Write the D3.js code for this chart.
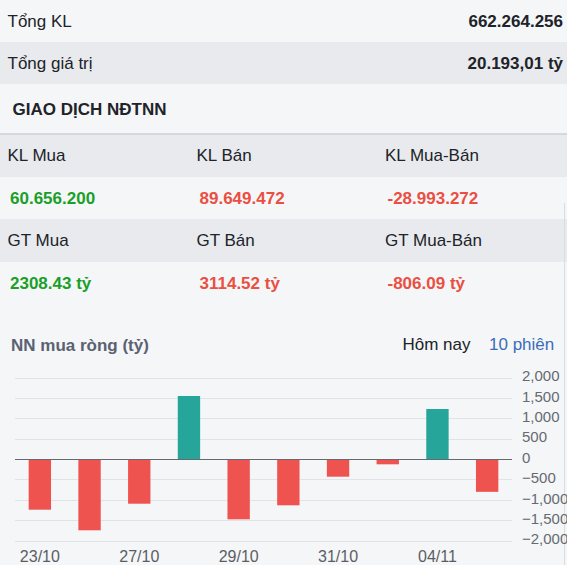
<!DOCTYPE html>
<html>
<head>
<meta charset="utf-8">
<script src="https://cdn.jsdelivr.net/npm/d3@7"></script>
<style>
  html, body { margin: 0; padding: 0; background: #f5f6f8; }
  svg { display: block; font-family: "Liberation Sans", Arial, sans-serif; }
</style>
</head>
<body>
<svg id="chart" width="567" height="565"></svg>
<script>
// ---- data ----
const summaryLabels = ["Tổng KL", "Tổng giá trị"];
const summaryValues = ["662.264.256", "20.193,01 tỷ"];
const sectionTitle = "GIAO DỊCH NĐTNN";
const klLabels = ["KL Mua", "KL Bán", "KL Mua-Bán"];
const klValues = ["60.656.200", "89.649.472", "-28.993.272"];
const gtLabels = ["GT Mua", "GT Bán", "GT Mua-Bán"];
const gtValues = ["2308.43 tỷ", "3114.52 tỷ", "-806.09 tỷ"];
const valueSigns = [1, -1, -1];
const chartTitle = "NN mua ròng (tỷ)";
const tabs = ["Hôm nay", "10 phiên"];
const dates = ["23/10", "24/10", "27/10", "28/10", "29/10", "30/10", "31/10", "03/11", "04/11", "05/11"];
const netBuy = [-1244, -1750, -1097, 1546, -1480, -1136, -434, -130, 1227, -806.09];
const xTickLabels = ["23/10", "27/10", "29/10", "31/10", "04/11"];
const yTicks = [-2000, -1500, -1000, -500, 0, 500, 1000, 1500, 2000];

// ---- styles ----
const C = {
  light: "#f5f6f8", gray: "#e8eaee", text: "#202328", green: "#1a9f29", red: "#ea4f42",
  barUp: "#26a69a", barDown: "#ef5350", grid: "#e1e3e7", zero: "#666a70", axis: "#666a70",
  title: "#5a6272", blue: "#3a6db8"
};

const svg = d3.select("#chart");
svg.append("rect").attr("width", 567).attr("height", 565).attr("fill", C.light);

// summary rows
const rows = [
  {y0: 0, y1: 42, fill: C.light},
  {y0: 42, y1: 84, fill: C.gray},
  {y0: 84, y1: 134, fill: C.light},
  {y0: 134, y1: 177, fill: C.gray},
  {y0: 177, y1: 219, fill: C.light},
  {y0: 219, y1: 262, fill: C.gray},
  {y0: 262, y1: 305, fill: C.light}
];
svg.selectAll("rect.row").data(rows).join("rect").attr("class", "row")
  .attr("x", 0).attr("y", d => d.y0).attr("width", 567).attr("height", d => d.y1 - d.y0)
  .attr("fill", d => d.fill);
svg.append("line").attr("x1", 0).attr("x2", 567).attr("y1", 134).attr("y2", 134)
  .attr("stroke", "#cdd0d5").attr("stroke-width", 1.5);
svg.append("line").attr("x1", 564.5).attr("x2", 564.5).attr("y1", 203).attr("y2", 565)
  .attr("stroke", "#d9dce1").attr("stroke-width", 1);

const fs = 17;
const sumY = [27, 68.5];
summaryLabels.forEach((t, i) => {
  svg.append("text").attr("x", 7.5).attr("y", sumY[i]).attr("font-size", fs).attr("fill", C.text).text(t);
  svg.append("text").attr("x", 563).attr("y", sumY[i]).attr("font-size", fs).attr("font-weight", "bold")
    .attr("text-anchor", "end").attr("fill", C.text).text(summaryValues[i]);
});
svg.append("text").attr("x", 12.5).attr("y", 115).attr("font-size", fs).attr("font-weight", "bold")
  .attr("fill", C.text).text(sectionTitle);

const colX = [7.5, 196.5, 385];
const valX = [10, 199.5, 387.5];
function colourFor(i) { return valueSigns[i] > 0 ? C.green : C.red; }
klLabels.forEach((t, i) => {
  svg.append("text").attr("x", colX[i]).attr("y", 161).attr("font-size", fs).attr("fill", C.text).text(t);
  svg.append("text").attr("x", valX[i]).attr("y", 204).attr("font-size", fs).attr("font-weight", "bold")
    .attr("fill", colourFor(i)).text(klValues[i]);
});
gtLabels.forEach((t, i) => {
  svg.append("text").attr("x", colX[i]).attr("y", 246).attr("font-size", fs).attr("fill", C.text).text(t);
  svg.append("text").attr("x", valX[i]).attr("y", 289).attr("font-size", fs).attr("font-weight", "bold")
    .attr("fill", colourFor(i)).text(gtValues[i]);
});

// chart header
svg.append("text").attr("x", 11).attr("y", 350.5).attr("font-size", fs).attr("font-weight", "bold")
  .attr("fill", C.title).text(chartTitle);
svg.append("text").attr("x", 402.5).attr("y", 350).attr("font-size", fs).attr("fill", C.text).text(tabs[0]);
svg.append("text").attr("x", 489).attr("y", 350).attr("font-size", fs).attr("fill", C.blue).text(tabs[1]);

// ---- chart ----
const x = d3.scaleBand().domain(dates).range([15, 512]).paddingInner(0.55).paddingOuter(0.275);
const y = d3.scaleLinear().domain([-2000, 2000]).range([540.5, 377.5]);

const g = svg.append("g");
g.selectAll("line.grid").data(yTicks.filter(v => v !== 0)).join("line").attr("class", "grid")
  .attr("x1", 15).attr("x2", 512).attr("y1", d => Math.round(y(d)) + 0.5).attr("y2", d => Math.round(y(d)) + 0.5)
  .attr("stroke", C.grid).attr("stroke-width", 1);

g.selectAll("rect.bar").data(dates.map((d, i) => ({d, v: netBuy[i]}))).join("rect").attr("class", "bar")
  .attr("x", d => x(d.d)).attr("width", x.bandwidth())
  .attr("y", d => y(Math.max(0, d.v))).attr("height", d => Math.abs(y(d.v) - y(0)))
  .attr("fill", d => d.v >= 0 ? C.barUp : C.barDown);

g.append("line").attr("x1", 15).attr("x2", 512).attr("y1", Math.round(y(0)) + 0.5).attr("y2", Math.round(y(0)) + 0.5)
  .attr("stroke", C.zero).attr("stroke-width", 1);

const yAxis = d3.axisRight(y).tickValues(yTicks).tickFormat(d3.format(",")).tickSize(0).tickPadding(0);
const ya = svg.append("g").attr("transform", "translate(522,0)").call(yAxis);
ya.select(".domain").remove();
ya.selectAll("text").attr("font-size", 15).attr("fill", C.axis)
  .attr("font-family", "Liberation Sans, Arial, sans-serif").attr("x", 0).attr("dy", "0.22em");

const xAxis = d3.axisBottom(x).tickValues(xTickLabels).tickSize(0).tickPadding(0);
const xa = svg.append("g").attr("transform", "translate(0,550)").call(xAxis);
xa.select(".domain").remove();
xa.selectAll("text").attr("font-size", 16).attr("fill", "#5a5e64")
  .attr("font-family", "Liberation Sans, Arial, sans-serif").attr("dy", "0.75em");
</script>
</body>
</html>
